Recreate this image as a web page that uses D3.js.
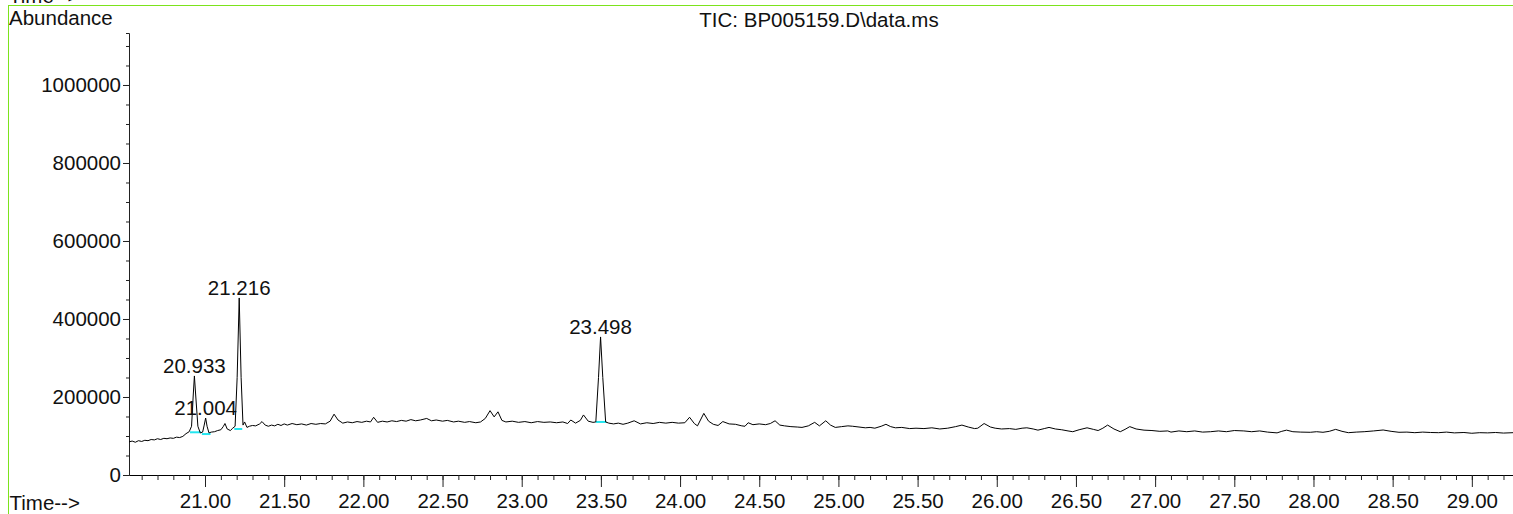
<!DOCTYPE html>
<html lang="en">
<head>
    <meta charset="UTF-8">
    <title>TIC: BP005159.D\data.ms</title>
    <script src="https://d3js.org/d3.v7.min.js"></script>
    <style>
        body {
            background-color: white;
            margin: 0;
            overflow: hidden;
        }
        svg text {
            font-family: "Liberation Sans", Arial, sans-serif;
            font-size: 20.5px;
            fill: #111;
        }
    </style>
</head>
<body>
    <div id="chart"></div>

    <script>
        // retention time (min) and abundance
        const rtTimes = [
            20.52, 20.54, 20.56, 20.58, 20.60, 20.62, 20.64, 20.66, 20.68, 20.70,
            20.72, 20.74, 20.76, 20.78, 20.80, 20.82, 20.84, 20.86, 20.88, 20.90,
            20.915, 20.925, 20.933, 20.942, 20.955, 20.97, 20.985, 20.995, 21.004, 21.013,
            21.025, 21.04, 21.06, 21.08, 21.10, 21.115, 21.126, 21.14, 21.16, 21.175,
            21.19, 21.203, 21.216, 21.228, 21.24, 21.25, 21.265, 21.28, 21.30, 21.32,
            21.345, 21.36, 21.38, 21.40, 21.42, 21.44, 21.46, 21.48, 21.50, 21.52,
            21.55, 21.58, 21.61, 21.64, 21.67, 21.70, 21.73, 21.76, 21.79, 21.815,
            21.84, 21.87, 21.90, 21.93, 21.96, 21.99, 22.02, 22.045, 22.065, 22.09,
            22.12, 22.15, 22.18, 22.21, 22.24, 22.27, 22.30, 22.33, 22.36, 22.40,
            22.43, 22.46, 22.50, 22.53, 22.57, 22.60, 22.64, 22.67, 22.71, 22.74,
            22.77, 22.80, 22.826, 22.85, 22.875, 22.90, 22.94, 22.98, 23.02, 23.06,
            23.10, 23.14, 23.18, 23.22, 23.26, 23.29, 23.31, 23.34, 23.37, 23.39,
            23.42, 23.45, 23.468, 23.485, 23.498, 23.512, 23.53, 23.55, 23.58, 23.61,
            23.64, 23.67, 23.71, 23.75, 23.79, 23.83, 23.87, 23.91, 23.95, 23.99,
            24.03, 24.06, 24.09, 24.11, 24.15, 24.18, 24.21, 24.24, 24.27, 24.31,
            24.35, 24.39, 24.41, 24.43, 24.46, 24.50, 24.54, 24.57, 24.60, 24.63,
            24.66, 24.70, 24.74, 24.77, 24.81, 24.85, 24.88, 24.92, 24.95, 24.98,
            25.02, 25.06, 25.09, 25.13, 25.17, 25.20, 25.23, 25.27, 25.30, 25.33,
            25.36, 25.40, 25.45, 25.49, 25.54, 25.59, 25.64, 25.69, 25.74, 25.78,
            25.82, 25.86, 25.88, 25.92, 25.96, 25.99, 26.03, 26.08, 26.12, 26.16,
            26.19, 26.23, 26.26, 26.30, 26.33, 26.37, 26.41, 26.45, 26.48, 26.52,
            26.57, 26.61, 26.64, 26.67, 26.70, 26.74, 26.78, 26.81, 26.84, 26.88,
            26.93, 26.98, 27.03, 27.08, 27.10, 27.15, 27.20, 27.25, 27.30, 27.35,
            27.40, 27.45, 27.50, 27.56, 27.61, 27.66, 27.71, 27.77, 27.80, 27.83,
            27.87, 27.92, 27.98, 28.02, 28.06, 28.10, 28.14, 28.18, 28.22, 28.27,
            28.32, 28.38, 28.44, 28.49, 28.54, 28.59, 28.64, 28.69, 28.74, 28.79,
            28.84, 28.89, 28.95, 29.00, 29.05, 29.10, 29.15, 29.20, 29.26
        ];
        const ticValues = [
            85000, 87000, 84000, 88000, 86000, 89000, 88000, 91000, 90000, 93000,
            91000, 94000, 93000, 95000, 94000, 97000, 96000, 99000, 106000, 111000,
            125000, 200000, 254000, 200000, 125000, 108000, 110000, 128000, 146000, 125000,
            108000, 110000, 111000, 114000, 116000, 124000, 132000, 118000, 114000, 120000,
            125000, 250000, 454000, 250000, 128000, 136000, 122000, 125000, 127000, 126000,
            131000, 137000, 128000, 125000, 128000, 126000, 130000, 127000, 131000, 128000,
            132000, 129000, 131000, 128000, 132000, 130000, 132000, 131000, 138000, 156000,
            141000, 133000, 136000, 134000, 137000, 135000, 138000, 136000, 148000, 135000,
            138000, 136000, 139000, 137000, 140000, 138000, 142000, 139000, 141000, 145000,
            139000, 141000, 138000, 140000, 136000, 138000, 135000, 137000, 134000, 136000,
            145000, 165000, 149000, 162000, 140000, 136000, 138000, 135000, 137000, 134000,
            137000, 135000, 136000, 134000, 136000, 132000, 141000, 133000, 140000, 154000,
            138000, 135000, 136000, 250000, 354000, 250000, 136000, 133000, 131000, 133000,
            130000, 133000, 139000, 131000, 134000, 132000, 135000, 133000, 135000, 133000,
            134000, 148000, 132000, 126000, 158000, 138000, 130000, 127000, 137000, 131000,
            130000, 126000, 125000, 134000, 129000, 131000, 129000, 132000, 139000, 128000,
            126000, 124000, 123000, 122000, 126000, 135000, 126000, 139000, 128000, 122000,
            124000, 126000, 125000, 123000, 121000, 122000, 120000, 125000, 130000, 124000,
            121000, 122000, 119000, 120000, 119000, 121000, 118000, 120000, 124000, 128000,
            123000, 119000, 120000, 132000, 123000, 120000, 118000, 119000, 117000, 120000,
            121000, 118000, 115000, 119000, 122000, 118000, 116000, 113000, 111000, 116000,
            121000, 117000, 114000, 120000, 128000, 118000, 111000, 117000, 124000, 118000,
            115000, 114000, 112000, 113000, 110000, 113000, 111000, 113000, 110000, 111000,
            113000, 111000, 114000, 113000, 111000, 113000, 110000, 108000, 112000, 115000,
            111000, 110000, 109500, 111000, 109500, 112000, 117000, 112000, 108500, 110000,
            111000, 113000, 115400, 112000, 109500, 110000, 108500, 110000, 109000, 108500,
            110000, 108000, 109000, 107000, 108500, 108000, 109000, 107500, 108500
        ];

        // labelled peaks
        const peakTimes = [20.933, 21.004, 21.216, 23.498];
        const peakApex = [254000, 146000, 454000, 354000];

        // integration baselines (cyan)
        const baseStart = [20.905, 20.98, 21.185, 23.468];
        const baseEnd = [20.975, 21.035, 21.235, 23.535];
        const baseLevel = [109500, 105000, 118000, 136000];

        const yMajorTicks = [0, 200000, 400000, 600000, 800000, 1000000];
        const xLabelTicks = [21.0, 21.5, 22.0, 22.5, 23.0, 23.5, 24.0, 24.5, 25.0,
                             25.5, 26.0, 26.5, 27.0, 27.5, 28.0, 28.5, 29.0];

        const width = 1513,
              height = 514;

        const svg = d3.select("#chart")
                      .append("svg")
                      .attr("width", width)
                      .attr("height", height);

        const x = d3.scaleLinear()
                    .domain([20.52, 29.26])
                    .range([129, 1513]);

        const y = d3.scaleLinear()
                    .domain([0, 1133333])
                    .range([475, 33]);

        // green frame of the report page
        svg.append("line")
           .attr("x1", 8).attr("x2", width)
           .attr("y1", 5.5).attr("y2", 5.5)
           .attr("stroke", "#7ce31c")
           .attr("stroke-width", 1);
        svg.append("line")
           .attr("x1", 8.5).attr("x2", 8.5)
           .attr("y1", 5).attr("y2", height)
           .attr("stroke", "#7ce31c")
           .attr("stroke-width", 1);

        // clipped label left over from the panel above
        svg.append("text")
           .attr("x", 9)
           .attr("y", 2.5)
           .text("Time-->");

        svg.append("text")
           .attr("x", 9)
           .attr("y", 25)
           .text("Abundance");

        svg.append("text")
           .attr("x", 819)
           .attr("y", 27)
           .attr("text-anchor", "middle")
           .text("TIC: BP005159.D\\data.ms");

        svg.append("text")
           .attr("x", 9.5)
           .attr("y", 510)
           .text("Time-->");

        // y axis
        const yAxis = svg.append("g")
                         .attr("transform", "translate(129,0)")
                         .call(d3.axisLeft(y)
                                 .tickValues(d3.range(0, 1133333, 50000))
                                 .tickSize(3)
                                 .tickFormat(""));
        yAxis.append("g")
             .call(d3.axisLeft(y)
                     .tickValues(yMajorTicks)
                     .tickSize(6)
                     .tickPadding(2)
                     .tickFormat(d3.format("d")));
        yAxis.selectAll(".domain").attr("stroke", "#222");
        yAxis.selectAll("g g .domain").remove();

        // x axis
        const xAxis = svg.append("g")
                         .attr("transform", "translate(0,475)")
                         .call(d3.axisBottom(x)
                                 .tickValues(d3.range(20.6, 29.25, 0.1))
                                 .tickSize(5)
                                 .tickSizeOuter(0)
                                 .tickFormat(""));
        xAxis.append("g")
             .call(d3.axisBottom(x)
                     .tickValues(xLabelTicks)
                     .tickSize(12)
                     .tickPadding(6)
                     .tickFormat(d3.format(".2f")));
        xAxis.selectAll("g g .domain").remove();

        svg.selectAll(".tick line").attr("stroke", "#222");
        svg.selectAll(".tick text")
           .style("font-size", "20.5px")
           .style("font-family", "'Liberation Sans', Arial, sans-serif")
           .attr("fill", "#111");

        // integration baselines
        svg.append("g")
           .selectAll("line")
           .data(baseStart)
           .join("line")
           .attr("x1", d => x(d))
           .attr("x2", (d, i) => x(baseEnd[i]))
           .attr("y1", (d, i) => y(baseLevel[i]))
           .attr("y2", (d, i) => y(baseLevel[i]))
           .attr("stroke", "#22e6f0")
           .attr("stroke-width", 2);

        // the chromatogram trace
        const line = d3.line()
                       .x(d => x(d[0]))
                       .y(d => y(d[1]));

        svg.append("path")
           .datum(rtTimes.map((t, i) => [t, ticValues[i]]))
           .attr("d", line)
           .attr("fill", "none")
           .attr("stroke", "black")
           .attr("stroke-width", 1);

        // peak labels
        svg.append("g")
           .selectAll("text")
           .data(peakTimes)
           .join("text")
           .attr("x", d => x(d))
           .attr("y", (d, i) => y(peakApex[i]) - 3)
           .attr("text-anchor", "middle")
           .text(d => d3.format(".3f")(d));
    </script>
</body>
</html>
